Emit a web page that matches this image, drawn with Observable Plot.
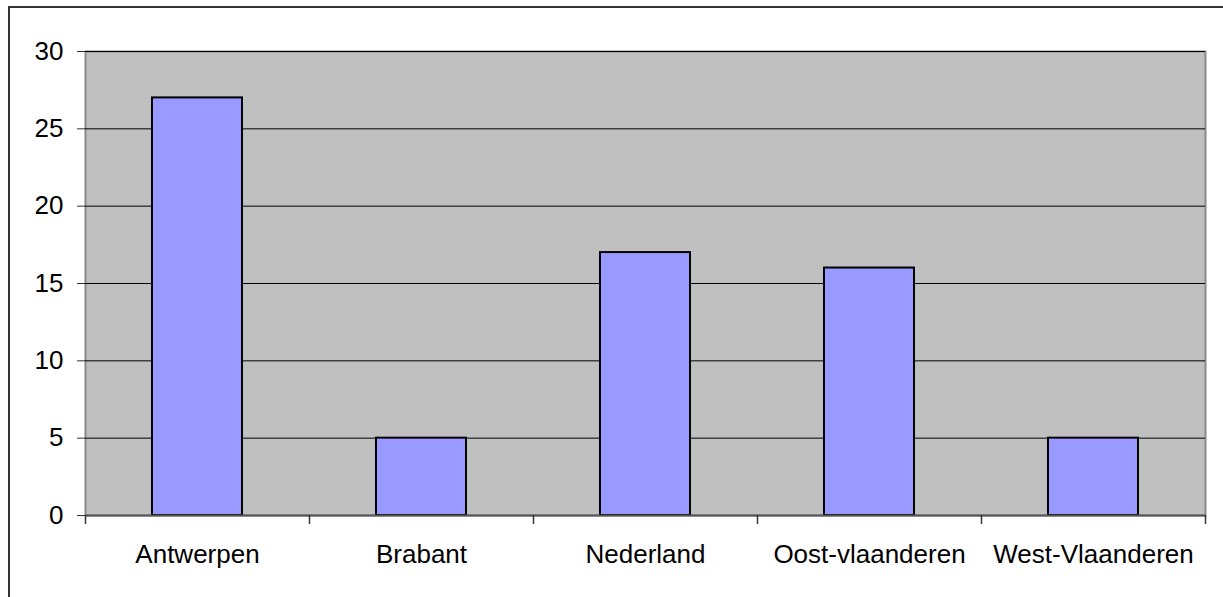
<!DOCTYPE html>
<html>
<head>
<meta charset="utf-8">
<script src="https://cdn.jsdelivr.net/npm/d3@7"></script>
<script src="https://cdn.jsdelivr.net/npm/@observablehq/plot@0.6"></script>
<style>
  html, body { margin: 0; padding: 0; background: #fff; overflow: hidden; }
  #wrap { position: relative; width: 1223px; height: 597px; }
  #border { position: absolute; left: 8px; top: 6px; width: 1400px; height: 800px;
            border-left: 2px solid #333; border-top: 2px solid #333; box-sizing: border-box; }
  #chart { position: absolute; left: 0; top: 0; }
</style>
</head>
<body>
<div id="wrap">
  <div id="border"></div>
  <div id="chart"></div>
</div>
<script>
const categories = ["Antwerpen", "Brabant", "Nederland", "Oost-vlaanderen", "West-Vlaanderen"];
const values = [27, 5, 17, 16, 5];
const yTicks = [0, 5, 10, 15, 20, 25, 30];

const data = categories.map((c, i) => ({category: c, value: values[i]}));

const W = 1223, H = 597;
const mL = 85, mR = 18, mT = 51, mB = 82;
const step = (W - mL - mR) / categories.length;

const font = "'Liberation Sans', Arial, sans-serif";
const fs = 26;

const chart = Plot.plot({
  width: W,
  height: H,
  marginLeft: mL,
  marginRight: mR,
  marginTop: mT,
  marginBottom: mB,
  style: {fontFamily: font, fontSize: fs + "px", color: "#000", background: "transparent", overflow: "visible"},
  x: {domain: categories, paddingInner: 0.6, paddingOuter: 0.3, label: null},
  y: {domain: [0, 30], label: null},
  marks: [
    Plot.frame({fill: "#c0c0c0", stroke: "#8a8a8a", strokeWidth: 2}),
    Plot.ruleY(yTicks.filter(d => d > 0), {stroke: "#000", strokeWidth: 1}),
    Plot.barY(data, {x: "category", y: "value", fill: "#9999ff", stroke: "#000", strokeWidth: 2}),
    Plot.ruleY([0], {stroke: "#555", strokeWidth: 2}),
    Plot.axisY({ticks: yTicks, tickSize: 8, tickPadding: 14, stroke: "#333", fontSize: fs, fill: "#000", tickFormat: d => d}),
    Plot.axisX({tickSize: 0, tickPadding: 29, fontSize: fs, fill: "#000"}),
    Plot.axisX({tickSize: 9, tickFormat: () => "", dx: -step / 2, stroke: "#333", strokeWidth: 1.5}),
    Plot.axisX([categories[categories.length - 1]], {tickSize: 9, tickFormat: () => "", dx: step / 2, stroke: "#333", strokeWidth: 1.5}),
  ]
});
document.getElementById("chart").appendChild(chart);
</script>
</body>
</html>
